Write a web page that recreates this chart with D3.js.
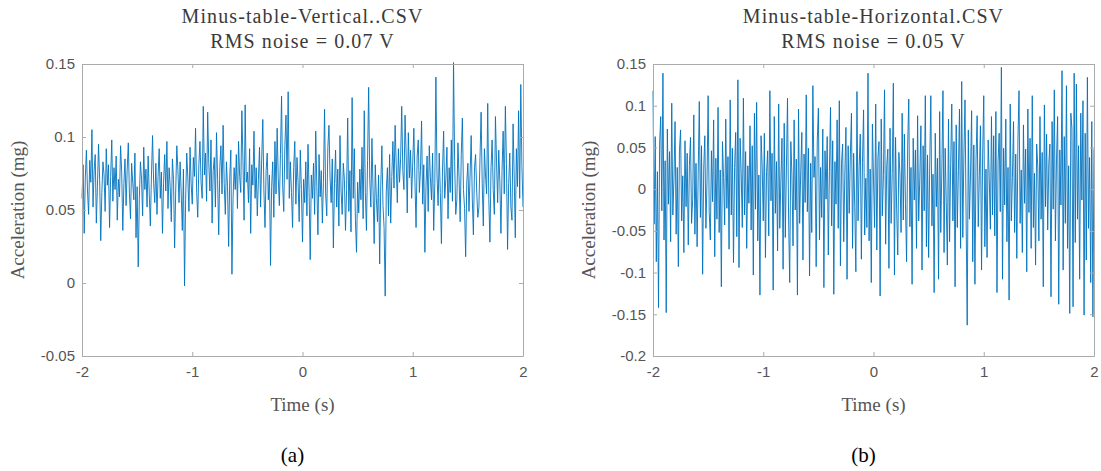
<!DOCTYPE html>
<html>
<head>
<meta charset="utf-8">
<script src="https://cdn.jsdelivr.net/npm/d3@7"></script>
<style>
  body { margin: 0; background: #fff; }
  .tick text { font-family: "Liberation Sans", Arial, sans-serif; font-size: 15px; fill: #555; }
  .ttl { font-family: "Liberation Serif", "DejaVu Serif", serif; font-size: 20px; letter-spacing: 1.1px; fill: #3a3a3a; }
  .lbl { font-family: "Liberation Serif", "DejaVu Serif", serif; font-size: 19px; fill: #555; }
  .cap { font-family: "Liberation Serif", "DejaVu Serif", serif; font-size: 21px; fill: #000; }
</style>
</head>
<body>
<script>
// sample times, one every 0.01 s
var timeSteps = d3.range(401).map(i => -2 + i * 0.01);

// panel (a), vertical
var vertical = [
  0.058, 0.081, 0.034, 0.072, 0.091, 0.063, 0.047, 0.084, 0.069, 0.105,
  0.052, 0.077, 0.088, 0.041, 0.066, 0.095, 0.071, 0.029, 0.062, 0.083,
  0.074, 0.049, 0.092, 0.067, 0.081, 0.038, 0.073, 0.098, 0.056, 0.079,
  0.064, 0.087, 0.043, 0.071, 0.059, 0.094, 0.076, 0.036, 0.068, 0.085,
  0.053, 0.078, 0.096, 0.061, 0.044, 0.082, 0.069, 0.057, 0.089, 0.031,
  0.066, 0.011, 0.058, 0.083, 0.071, 0.046, 0.093, 0.064, 0.078, 0.052,
  0.087, 0.061, 0.039, 0.074, 0.101, 0.068, 0.055, 0.082, 0.047, 0.073,
  0.092, 0.058, 0.076, 0.034, 0.069, 0.088, 0.063, 0.097, 0.051, 0.079,
  0.066, 0.042, 0.085, 0.071, 0.024, 0.063, 0.094, 0.077, 0.055, 0.083,
  0.061, 0.036, 0.078, -0.002, 0.057, 0.089, 0.072, 0.049, 0.093, 0.068,
  0.054, 0.086, 0.073, 0.106, 0.062, 0.045, 0.081, 0.097, 0.069, 0.058,
  0.121, 0.074, 0.089, 0.056, 0.117, 0.082, 0.063, 0.098, 0.041, 0.077,
  0.086, 0.052, 0.103, 0.071, 0.033, 0.079, 0.094, 0.061, 0.108, 0.068,
  0.047, 0.083, 0.066, 0.025, 0.072, 0.091, 0.006, 0.058, 0.079, 0.064,
  0.088, 0.051, 0.097, 0.073, 0.062, 0.118, 0.084, 0.043, 0.122, 0.069,
  0.076, 0.055, 0.092, 0.034, 0.081, 0.067, 0.104, 0.058, 0.079, 0.046,
  0.071, 0.093, 0.052, 0.085, 0.112, 0.063, 0.038, 0.077, 0.089, 0.057,
  0.074, 0.012, 0.066, 0.083, 0.045, 0.097, 0.061, 0.106, 0.072, 0.053,
  0.088, 0.128, 0.067, 0.049, 0.094, 0.115, 0.071, 0.131, 0.058, 0.083,
  0.062, 0.038, 0.079, 0.097, 0.054, 0.086, 0.069, 0.042, 0.091, 0.064,
  0.028, 0.071, 0.055, 0.083, 0.046, 0.095, 0.062, 0.016, 0.074, 0.058,
  0.082, 0.047, 0.104, 0.066, 0.033, 0.088, 0.059, 0.077, 0.041, 0.069,
  0.119, 0.061, 0.046, 0.093, 0.108, 0.072, 0.055, 0.085, 0.024, 0.068,
  0.091, 0.052, 0.078, 0.039, 0.101, 0.063, 0.047, 0.082, 0.071, 0.036,
  0.064, 0.113, 0.049, 0.077, 0.035, 0.127, 0.058, 0.092, 0.043, 0.021,
  0.069, 0.048, 0.078, 0.057, 0.093, 0.044, 0.118, 0.062, 0.036, 0.084,
  0.134, 0.071, 0.052, 0.099, 0.063, 0.027, 0.081, 0.058, 0.042, 0.074,
  0.013, 0.067, 0.094, 0.053, 0.038, -0.009, 0.063, 0.079, 0.046, 0.088,
  0.041, 0.073, 0.097, 0.065, 0.108, 0.081, 0.055, 0.092, 0.069, 0.085,
  0.121, 0.077, 0.064, 0.115, 0.089, 0.048, 0.103, 0.072, 0.091, 0.058,
  0.083, 0.106, 0.069, 0.038, 0.087, 0.098, 0.062, 0.077, 0.111, 0.054,
  0.081, 0.021, 0.066, 0.087, 0.049, 0.094, 0.072, 0.057, 0.089, 0.036,
  0.068, 0.141, 0.074, 0.053, 0.089, 0.062, 0.027, 0.078, 0.104, 0.058,
  0.071, 0.093, 0.044, 0.079, 0.062, 0.098, 0.056, 0.151, 0.083, 0.047,
  0.057, 0.096, 0.072, 0.042, 0.088, 0.113, 0.064, 0.051, 0.018, 0.069,
  0.082, 0.049, 0.074, 0.101, 0.058, 0.033, 0.079, 0.088, 0.063, 0.045,
  0.052, 0.086, 0.117, 0.068, 0.039, 0.092, 0.074, 0.061, 0.123, 0.057,
  0.028, 0.079, 0.098, 0.064, 0.047, 0.114, 0.083, 0.055, 0.091, 0.069,
  0.034, 0.077, 0.104, 0.061, 0.121, 0.082, 0.023, 0.068, 0.089, 0.052,
  0.043, 0.109, 0.074, 0.031, 0.092, 0.066, 0.118, 0.058, 0.136, 0.081,
  0.052
];

// panel (b), horizontal
var horizontal = [
  0.118, -0.042, 0.063, -0.087, 0.021, -0.142, 0.054, 0.087, -0.026, 0.139,
  -0.061, 0.034, -0.148, 0.072, -0.018, 0.045, -0.063, 0.103, -0.031, 0.012,
  0.081, -0.054, 0.026, -0.093, 0.047, 0.071, -0.038, 0.016, -0.076, 0.058,
  -0.021, 0.043, -0.067, 0.028, 0.062, -0.041, -0.012, 0.089, -0.054, 0.031,
  -0.069, 0.018, 0.105, -0.034, 0.052, -0.102, 0.024, 0.064, -0.047, 0.011,
  0.112, -0.028, -0.061, 0.046, -0.015, 0.083, -0.081, 0.037, -0.036, 0.098,
  -0.052, 0.023, -0.117, 0.057, 0.014, -0.043, 0.084, -0.023, 0.039, -0.072,
  0.107, -0.031, 0.049, -0.088, 0.026, 0.068, -0.057, 0.131, -0.094, 0.061,
  0.019, -0.046, 0.109, -0.031, 0.045, -0.071, 0.028, -0.017, 0.076, -0.049,
  0.052, -0.103, 0.091, -0.024, 0.104, -0.062, 0.017, -0.127, 0.064, 0.029,
  -0.038, 0.067, -0.082, 0.021, 0.046, -0.056, 0.118, -0.014, 0.043, -0.121,
  0.087, -0.029, 0.033, -0.074, 0.102, -0.047, 0.011, 0.061, -0.096, 0.079,
  -0.058, 0.024, 0.109, -0.036, -0.112, 0.057, 0.018, -0.068, 0.083, -0.025,
  0.036, -0.127, 0.096, -0.041, 0.022, 0.068, -0.085, 0.042, -0.016, 0.113,
  -0.027, 0.049, -0.104, 0.031, -0.052, 0.124, 0.014, 0.039, -0.093, 0.058,
  0.097, -0.061, 0.026, -0.034, 0.072, -0.118, 0.046, -0.012, 0.063, -0.079,
  0.021, 0.098, -0.044, 0.058, -0.126, 0.033, -0.018, 0.083, -0.047, 0.106,
  -0.092, 0.031, 0.054, -0.063, 0.018, 0.074, -0.108, 0.052, -0.029, 0.041,
  0.091, -0.071, 0.043, -0.021, -0.099, 0.117, -0.038, 0.027, 0.066, -0.084,
  0.032, 0.095, -0.055, 0.013, -0.046, 0.139, -0.062, 0.024, -0.112, 0.078,
  0.012, -0.046, 0.102, -0.073, 0.038, 0.057, -0.128, 0.084, -0.032, 0.016,
  0.119, -0.066, 0.028, 0.048, -0.095, 0.073, -0.041, 0.019, 0.127, -0.103,
  0.062, -0.024, -0.079, 0.044, 0.018, -0.052, 0.091, -0.037, 0.066, -0.018,
  -0.087, 0.053, 0.108, -0.045, 0.026, -0.114, 0.061, -0.013, 0.047, -0.071,
  0.088, -0.038, 0.014, 0.076, -0.097, 0.052, -0.026, 0.112, -0.069, 0.041,
  -0.082, 0.029, 0.112, -0.044, 0.018, -0.124, 0.067, -0.021, 0.037, -0.108,
  0.093, -0.052, 0.024, 0.118, -0.076, 0.049, -0.016, -0.091, 0.084, -0.063,
  0.031, 0.102, -0.038, 0.057, -0.117, 0.077, -0.046, 0.022, 0.096, -0.071,
  0.129, -0.058, 0.042, 0.107, -0.034, -0.163, 0.071, -0.036, 0.018, 0.094,
  -0.087, 0.053, -0.114, 0.036, 0.088, -0.045, 0.016, 0.076, -0.097, 0.041,
  0.112, -0.069, 0.024, -0.082, 0.059, 0.013, -0.048, 0.087, -0.031, 0.064,
  -0.056, 0.093, -0.124, 0.034, 0.067, -0.027, 0.146, -0.108, 0.049, -0.019,
  0.084, -0.063, 0.026, -0.133, 0.102, -0.038, 0.014, 0.081, -0.052, 0.042,
  -0.083, 0.059, 0.118, -0.041, 0.023, -0.076, 0.077, -0.017, 0.048, -0.099,
  0.096, -0.028, 0.061, -0.071, 0.112, -0.046, 0.019, -0.091, 0.054, 0.027,
  -0.062, 0.087, -0.036, 0.044, -0.117, 0.101, -0.021, 0.066, -0.049, 0.031,
  0.054, -0.129, 0.081, -0.024, 0.119, -0.062, 0.036, 0.087, -0.138, 0.047,
  -0.019, 0.142, -0.097, 0.063, -0.041, 0.124, -0.071, 0.028, -0.149, 0.091,
  0.073, -0.141, 0.139, -0.064, 0.126, -0.036, 0.052, -0.108, 0.091, -0.013,
  0.106, -0.151, 0.067, -0.085, 0.134, -0.047, 0.038, -0.112, 0.081, -0.153,
  0.048
];

var xTicks = [-2, -1, 0, 1, 2];
var yTicksA = [-0.05, 0, 0.05, 0.1, 0.15];
var yTicksB = [-0.2, -0.15, -0.1, -0.05, 0, 0.05, 0.1, 0.15];

var panels = [
  { left: 82, title1: "Minus-table-Vertical..CSV", title2: "RMS noise = 0.07 V",
    data: vertical, yDomain: [-0.05, 0.15], yTicks: yTicksA, cap: "(a)" },
  { left: 653, title1: "Minus-table-Horizontal.CSV", title2: "RMS noise = 0.05 V",
    data: horizontal, yDomain: [-0.2, 0.15], yTicks: yTicksB, cap: "(b)" }
];

var svgWidth = 1101;
var svgHeight = 471;
var plotW = 441;
var plotTop = 64;
var plotH = 292;

var svg = d3.select("body").append("svg")
  .attr("width", svgWidth)
  .attr("height", svgHeight);

function fmt(d) {
  return d === 0 ? "0" : String(+d.toFixed(2));
}

panels.forEach(function(p) {
  var g = svg.append("g").attr("transform", `translate(${p.left}, ${plotTop})`);

  var x = d3.scaleLinear().domain([-2, 2]).range([0, plotW]);
  var y = d3.scaleLinear().domain(p.yDomain).range([plotH, 0]);

  // signal
  var line = d3.line()
    .x((d, i) => x(timeSteps[i]))
    .y(d => y(d));

  g.append("path")
    .datum(p.data)
    .attr("fill", "none")
    .attr("stroke", "#0072bd")
    .attr("stroke-width", 0.9)
    .attr("d", line);

  // axes with inward ticks, mirrored on top and right
  var axes = [
    { ax: d3.axisBottom(x).tickValues(xTicks).tickFormat(fmt).tickPadding(10), tr: `translate(0, ${plotH})` },
    { ax: d3.axisTop(x).tickValues(xTicks).tickFormat(""), tr: "translate(0, 0)" },
    { ax: d3.axisLeft(y).tickValues(p.yTicks).tickFormat(fmt).tickPadding(7), tr: "translate(0, 0)" },
    { ax: d3.axisRight(y).tickValues(p.yTicks).tickFormat(""), tr: `translate(${plotW}, 0)` }
  ];
  axes.forEach(function(a) {
    var ag = g.append("g").attr("transform", a.tr)
      .call(a.ax.tickSizeInner(-4).tickSizeOuter(0));
    ag.select(".domain").attr("stroke", "#aaa");
    ag.selectAll(".tick line").attr("stroke", "#aaa");
  });

  // titles
  svg.append("text").attr("class", "ttl")
    .attr("x", p.left + plotW / 2).attr("y", 23)
    .attr("text-anchor", "middle").text(p.title1);
  svg.append("text").attr("class", "ttl")
    .attr("x", p.left + plotW / 2).attr("y", 48)
    .attr("text-anchor", "middle").text(p.title2);

  // axis labels
  svg.append("text").attr("class", "lbl")
    .attr("x", p.left + plotW / 2).attr("y", 411)
    .attr("text-anchor", "middle").text("Time (s)");
  svg.append("text").attr("class", "lbl")
    .attr("transform", `translate(${p.left - 58}, ${plotTop + plotH / 2}) rotate(-90)`)
    .attr("text-anchor", "middle").text("Acceleration (mg)");

  // subfigure caption
  svg.append("text").attr("class", "cap")
    .attr("x", p.left + plotW / 2 - 10).attr("y", 462)
    .attr("text-anchor", "middle").text(p.cap);
});
</script>
</body>
</html>
